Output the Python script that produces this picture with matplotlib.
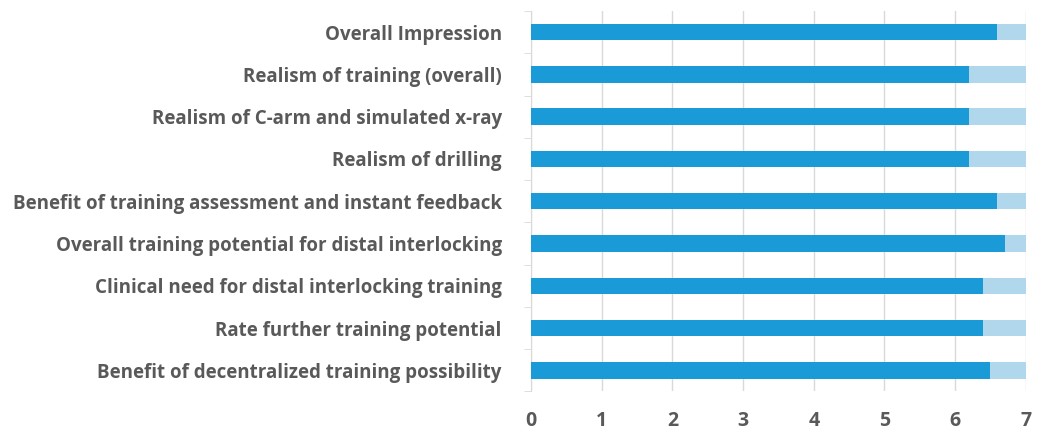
import matplotlib
matplotlib.use("Agg")
import matplotlib.pyplot as plt
import numpy as np

categories = [
    "Overall Impression",
    "Realism of training (overall)",
    "Realism of C-arm and simulated x-ray",
    "Realism of drilling",
    "Benefit of training assessment and instant feedback",
    "Overall training potential for distal interlocking",
    "Clinical need for distal interlocking training",
    "Rate further training potential",
    "Benefit of decentralized training possibility",
]
scores = [6.6, 6.2, 6.2, 6.2, 6.6, 6.7, 6.4, 6.4, 6.5]
scale_max = 7
x_ticks = [0, 1, 2, 3, 4, 5, 6, 7]

dark = "#1a9ad6"
light = "#b1d7ec"
text_color = "#595959"

fig = plt.figure(figsize=(10.42, 4.32), dpi=100)
ax = fig.add_axes([0.5096, 0.0938, 0.4748, 0.8808])

y = np.arange(len(categories))
scores_arr = np.array(scores)
ax.barh(y, scores_arr, height=0.39, color=dark, zorder=3)
ax.barh(y, scale_max - scores_arr, left=scores_arr, height=0.39, color=light, zorder=3)

ax.set_xlim(0, scale_max)
ax.set_ylim(len(categories) - 0.5, -0.5)
ax.set_xticks(x_ticks)
ax.set_xticklabels([str(t) for t in x_ticks])
ax.set_yticks(y)
ax.set_yticklabels(categories)
ax.set_yticks(np.arange(-0.5, len(categories), 1.0), minor=True)

ax.grid(axis="x", color="#d9d9d9", linewidth=1.0, zorder=0)
for s in ["top", "right", "bottom"]:
    ax.spines[s].set_visible(False)
ax.spines["left"].set_color("#d9d9d9")

ax.tick_params(axis="y", which="major", length=0, pad=21)
ax.tick_params(axis="y", which="minor", length=5, color="#d9d9d9")
ax.tick_params(axis="x", length=0, pad=14)

for lab in ax.get_yticklabels():
    lab.set_fontfamily("Open Sans")
    lab.set_fontweight("bold")
    lab.set_fontsize(13.5)
    lab.set_color(text_color)
for lab in ax.get_xticklabels():
    lab.set_fontfamily("Open Sans")
    lab.set_fontweight("bold")
    lab.set_fontsize(14)
    lab.set_color(text_color)

fig.savefig("out.png", dpi=100)
